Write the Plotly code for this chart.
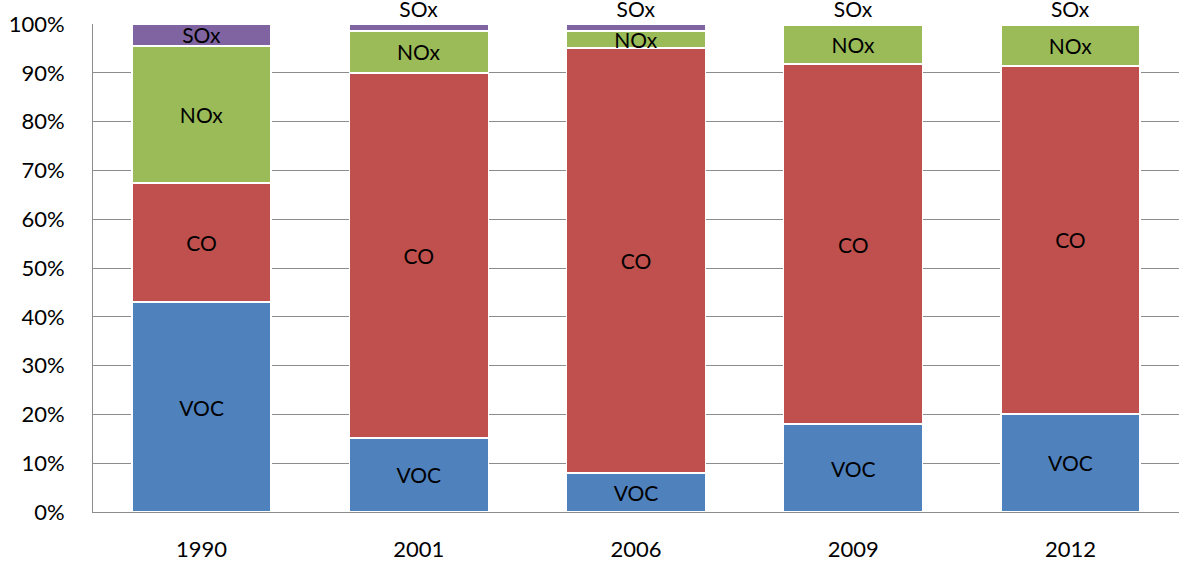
import plotly.graph_objects as go

years = ["1990", "2001", "2006", "2009", "2012"]

# shares of each pollutant (fraction of total)
voc = [0.430, 0.152, 0.080, 0.180, 0.201]
co = [0.244, 0.748, 0.871, 0.738, 0.713]
nox = [0.281, 0.086, 0.035, 0.080, 0.084]
sox = [0.045, 0.014, 0.014, 0.002, 0.002]

series = [("VOC", voc, "#4F81BD"), ("CO", co, "#C0504D"),
          ("NOx", nox, "#9BBB59"), ("SOx", sox, "#8064A2")]

fig = go.Figure()
for name, vals, col in series:
    if name == "SOx":
        pos = ["inside", "outside", "outside", "outside", "outside"]
    else:
        pos = "inside"
    fig.add_trace(go.Bar(
        x=years, y=vals, name=name,
        marker=dict(color=col, line=dict(color="white", width=1.5)),
        text=[name] * len(vals), textposition=pos,
        insidetextanchor="middle",
        textfont=dict(color="black", size=21),
        constraintext="none", cliponaxis=False,
    ))

fig.update_layout(
    barmode="stack", bargap=0.36,
    width=1179, height=562,
    margin=dict(l=93, r=0, t=24, b=50, autoexpand=False),
    plot_bgcolor="white", paper_bgcolor="white",
    showlegend=False,
    font=dict(family="Lato, Open Sans, sans-serif", size=22, color="black"),
    uniformtext=dict(minsize=21, mode="show"),
)
fig.update_yaxes(range=[0, 1], tickformat=".0%", dtick=0.1,
                 showgrid=True, gridcolor="#8c8c8c", gridwidth=1,
                 showline=True, linecolor="#8c8c8c", linewidth=1,
                 zeroline=False, ticklabelstandoff=23, automargin=False)
fig.update_xaxes(showline=True, linecolor="#8c8c8c", linewidth=1,
                 ticklabelstandoff=18, automargin=False)

# drop the default 8px page margin so the chart sits flush with the window
fig.write_html("out.html", config={"displayModeBar": False},
               post_script="document.body.style.margin='0';")
